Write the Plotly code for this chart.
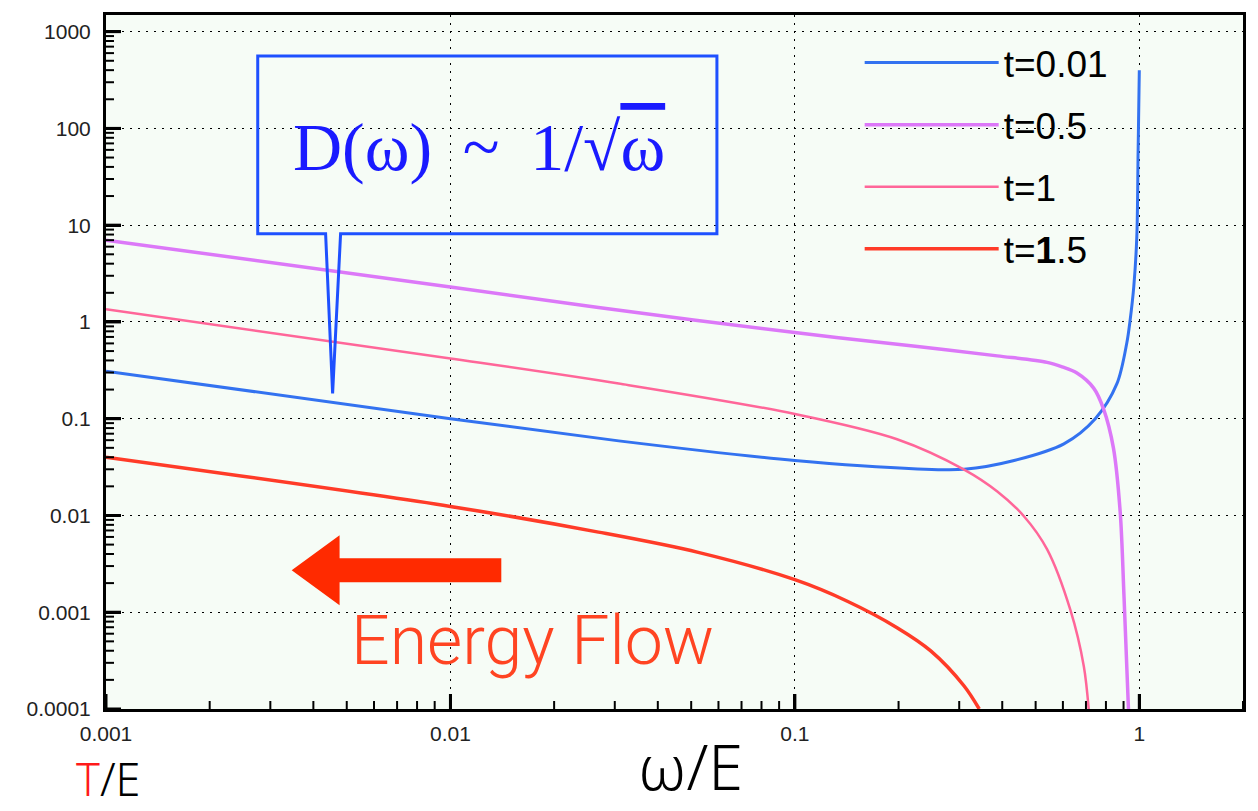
import math
import plotly.graph_objects as go

# ---------------- data ----------------
x_t001 = [0.001, 0.01, 0.0308, 0.1, 0.227, 0.31, 0.433, 0.604, 0.745, 0.861, 0.92, 0.939, 0.964, 0.9835, 0.992, 1.0]
y_t001 = [0.31, 0.10, 0.059, 0.037, 0.0303, 0.030, 0.037, 0.055, 0.10, 0.23, 0.61, 1.0, 2.35, 7.7, 58, 400]

x_t05 = [0.001, 0.01, 0.0269, 0.1, 0.227, 0.387, 0.54, 0.597, 0.659, 0.737, 0.788, 0.841, 0.88, 0.903, 0.93]
y_t05 = [7.0, 2.3, 1.41, 0.776, 0.556, 0.446, 0.382, 0.343, 0.296, 0.207, 0.125, 0.050, 0.0109, 0.00142, 0.0001]

x_t1 = [0.001, 0.01, 0.0308, 0.1, 0.198, 0.31, 0.387, 0.463, 0.54, 0.631, 0.69, 0.713]
y_t1 = [1.35, 0.42, 0.231, 0.112, 0.0614, 0.0298, 0.0177, 0.00977, 0.00446, 0.00105, 0.000277, 0.0001]

x_t15 = [0.001, 0.01, 0.0269, 0.0524, 0.1, 0.142, 0.198, 0.248, 0.31, 0.343]
y_t15 = [0.040, 0.0124, 0.00673, 0.00416, 0.00217, 0.0013, 0.000693, 0.000399, 0.000173, 0.0001]

series_names = ["t=0.01", "t=0.5", "t=1", "t=<b>1</b>.5"]
series_colors = ["#3372f0", "#dc78f8", "#ff6699", "#ff3b28"]
series_widths = [3, 3.5, 2.5, 3.5]

x_tickvals = [0.001, 0.01, 0.1, 1]
x_ticktext = ["0.001", "0.01", "0.1", "1"]
y_tickvals = [0.0001, 0.001, 0.01, 0.1, 1, 10, 100, 1000]
y_ticktext = ["0.0001", "0.001", "0.01", "0.1", "1", "10", "100", "1000"]

x_range = [0.001, 2.0]
y_range = [0.0001, 1486]

# minor tick positions: 2..9 in every decade
minor_x = [m * 10.0 ** d for d in range(-3, 1) for m in range(2, 10)]
minor_y = [m * 10.0 ** d for d in range(-4, 3) for m in range(2, 10)]

# ---------------- layout helpers (pixel -> paper) ----------------
W, H = 1258, 811
L, R, T, B = 106, 1245, 14, 709
PW, PH = R - L, B - T

xr = [math.log10(x_range[0]), math.log10(x_range[1])]
yr = [math.log10(y_range[0]), math.log10(y_range[1])]


def px(x):
    return (x - L) / PW


def py(y):
    return (B - y) / PH


def xpaper(v):
    return (math.log10(v) - xr[0]) / (xr[1] - xr[0])


def ypaper(v):
    return (math.log10(v) - yr[0]) / (yr[1] - yr[0])


def path(points):
    return "M " + " L ".join(f"{px(a):.5f},{py(b):.5f}" for a, b in points) + " Z"


fig = go.Figure()
all_x = [x_t001, x_t05, x_t1, x_t15]
all_y = [y_t001, y_t05, y_t1, y_t15]
for i in range(4):
    fig.add_trace(go.Scatter(
        x=all_x[i], y=all_y[i], mode="lines", name=series_names[i],
        legendgroup=f"g{i}",
        line=dict(color=series_colors[i], width=series_widths[i], shape="spline", smoothing=0.9),
    ))

axis_common = dict(
    type="log",
    showline=True, linewidth=3, linecolor="black", mirror=True,
    ticks="inside", ticklen=15, tickwidth=3, tickcolor="black",
    showgrid=True, gridcolor="black", gridwidth=1, griddash="2px,6px",
    zeroline=False,
    tickfont=dict(family="Liberation Sans", size=21, color="#222222"),
)

shapes = [
    # callout box with pointer
    dict(type="path", xref="paper", yref="paper",
         path=path([(258, 233), (258, 55), (718, 55), (718, 233), (341, 233), (333, 393), (326, 233)]),
         line=dict(color="#1e50ff", width=3), fillcolor="rgba(0,0,0,0)", layer="above"),
    # energy-flow arrow
    dict(type="path", xref="paper", yref="paper",
         path=path([(292, 570), (340, 535), (340, 558), (502, 558), (502, 582), (340, 582), (340, 605)]),
         line=dict(width=0), fillcolor="#ff2a00", layer="above"),
]

# tick marks drawn on the inner side of the bottom and left axis lines
for vals, ln, wd in [(x_tickvals, 15, 3), (minor_x, 8, 2)]:
    for v in vals:
        p = xpaper(v)
        if 0 <= p <= 1:
            shapes.append(dict(type="line", xref="paper", yref="paper", x0=p, x1=p, y0=0, y1=ln / PH,
                               line=dict(color="black", width=wd), layer="above"))
for vals, ln, wd in [(y_tickvals, 15, 3), (minor_y, 8, 2)]:
    for v in vals:
        p = ypaper(v)
        if 0 <= p <= 1:
            shapes.append(dict(type="line", xref="paper", yref="paper", x0=0, x1=ln / PW, y0=p, y1=p,
                               line=dict(color="black", width=wd), layer="above"))

annotations = [
    dict(xref="paper", yref="paper", x=px(480), y=py(146), xanchor="center", yanchor="middle",
         text="D(ω)\u2009 ~ \u20091/√<span style='text-decoration:overline'>ω</span>", showarrow=False,
         font=dict(family="Liberation Serif", size=68, color="#1a1aff")),
    dict(xref="paper", yref="paper", x=px(533), y=py(641), xanchor="center", yanchor="middle",
         text="Energy Flow", showarrow=False,
         font=dict(family="Roboto", size=68, color="#ff4422", weight=300)),
    dict(xref="paper", yref="paper", x=px(692), y=py(766), xanchor="center", yanchor="middle",
         text="ω/E", showarrow=False,
         font=dict(family="Noto Sans", size=63, color="black", weight=300)),
    dict(xref="paper", yref="paper", x=px(108), y=py(811), xanchor="center", yanchor="bottom",
         text="<span style='color:#ff1a1a'>T</span>/E", showarrow=False,
         font=dict(family="Noto Sans", size=45, color="black", weight=300)),
]

fig.update_layout(
    width=W, height=H, autosize=False,
    margin=dict(l=L, r=W - R, t=T, b=H - B, pad=0),
    paper_bgcolor="white", plot_bgcolor="#f6fcf6",
    xaxis=dict(**axis_common, range=xr, tickmode="array", tickvals=x_tickvals,
               ticktext=x_ticktext, ticklabelstandoff=4),
    yaxis=dict(**axis_common, range=yr, tickmode="array", tickvals=y_tickvals,
               ticktext=y_ticktext, ticklabelstandoff=8),
    shapes=shapes, annotations=annotations,
    showlegend=True,
    legend=dict(x=px(861), y=py(31), xanchor="left", yanchor="top",
                bgcolor="rgba(0,0,0,0)", borderwidth=0,
                font=dict(family="Liberation Sans", size=37, color="black"),
                itemwidth=134, tracegroupgap=11, traceorder="grouped"),
)

fig.write_html("out.html")
